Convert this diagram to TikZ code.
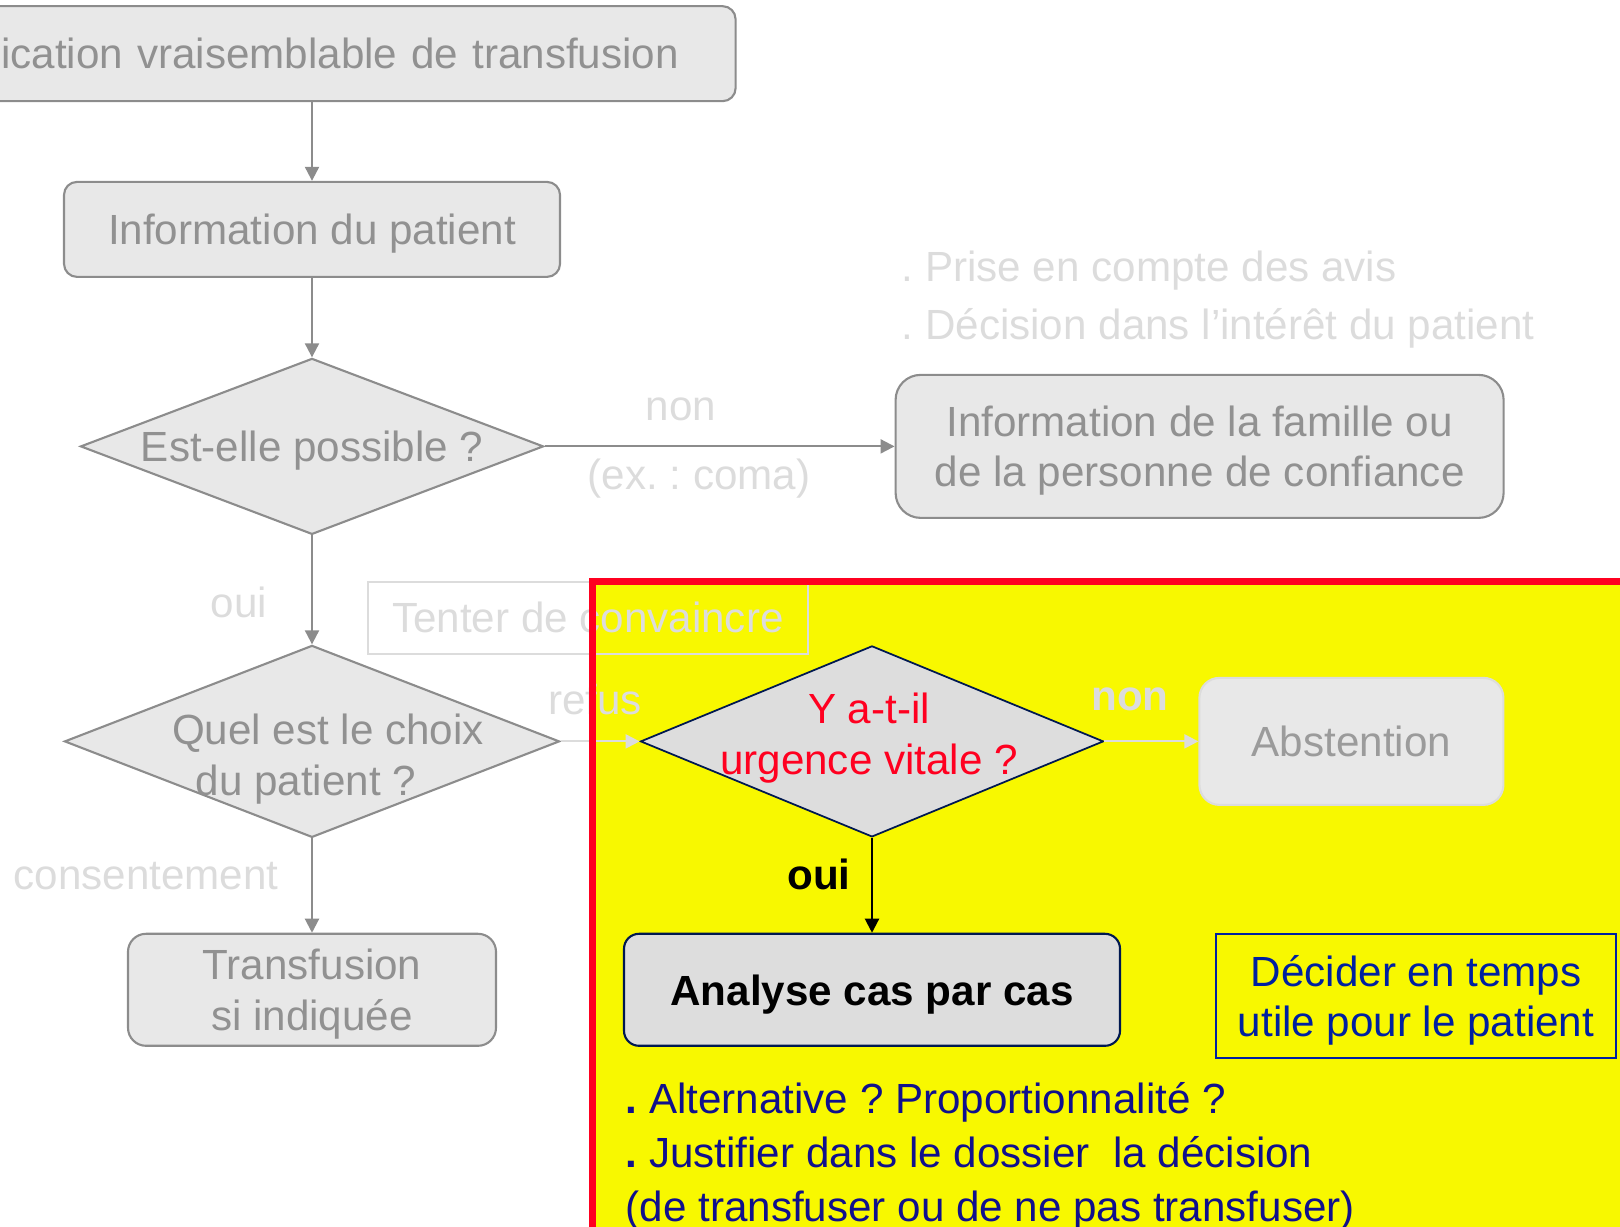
\documentclass[tikz,border=0pt]{standalone}
\usepackage{fontspec}
\setmainfont{Liberation Sans}
\usepackage{tikz}
\usetikzlibrary{arrows.meta,positioning,shapes.geometric}
\frenchspacing

\definecolor{boxfill}{RGB}{232,232,232}
\definecolor{boxline}{RGB}{140,140,140}
\definecolor{boxtext}{RGB}{145,145,145}
\definecolor{faint}{RGB}{220,220,220}
\definecolor{absttext}{RGB}{155,155,155}
\definecolor{urgfill}{RGB}{221,221,221}
\definecolor{navyline}{RGB}{0,24,80}
\definecolor{alertred}{RGB}{255,0,32}
\definecolor{hlyellow}{RGB}{248,248,0}
\definecolor{decblue}{RGB}{0,32,160}
\definecolor{notenavy}{RGB}{16,16,140}

\begin{document}
\begin{tikzpicture}[
    font=\fontsize{12}{14.4}\selectfont,
    greybox/.style={draw=boxline, fill=boxfill, text=boxtext, line width=0.6pt, rounded corners=0.13cm, inner sep=0pt, text depth=0pt, align=center},
    greydiamond/.style={diamond, draw=boxline, fill=boxfill, line width=0.6pt, inner sep=0pt},
    faintlabel/.style={text=faint, inner sep=0pt},
    notetext/.style={text=notenavy, anchor=base west, inner sep=0pt},
    flow/.style={line width=0.6pt, -{Triangle[length=1.4mm,width=1.4mm]}}
]
    \useasboundingbox (0,0) rectangle (16.2,12.264);
    \clip (0,0) rectangle (16.2,12.264);

    % Urgent zone (background)
    \fill[hlyellow] (5.925,-0.5) rectangle (16.8,6.447);

    % Main column
    \node[greybox, minimum height=0.95cm, text width=7.336cm, inner xsep=0.568cm, align=right] (indic) at (3.12,11.727) {ication vraisemblable de transfusion};
    \node[greybox, minimum width=4.96cm, minimum height=0.95cm] (infopat) at (3.12,9.97) {Information du patient};
    \node[greydiamond, minimum width=4.63cm, minimum height=1.76cm] (possible) at (3.12,7.8) {};
    \node[text=boxtext, text depth=0pt] (possibletxt) at (possible.center) {Est-elle possible ?};
    \node[greydiamond, minimum width=4.95cm, minimum height=1.92cm] (choix) at (3.12,4.85) {};
    \node[text=boxtext, align=center] (choixtxt) at ([xshift=0.05cm,yshift=-0.18cm]choix.center) {\hspace*{0.22cm}Quel est le choix\\du patient ?\hspace*{0.22cm}};
    \node[greybox, minimum width=3.68cm, minimum height=1.12cm, rounded corners=0.18cm] (transf) at (3.12,2.366) {Transfusion\\si indiquée};

    % Family branch
    \node[greybox, minimum width=6.08cm, minimum height=1.43cm, rounded corners=0.25cm] (famille) at (11.996,7.8) {Information de la famille ou\\de la personne de confiance};
    \node[faintlabel, anchor=west] (avis) at (9.01,9.56) {. Prise en compte des avis};
    \node[faintlabel, anchor=west] (interet) at (9.01,8.98) {. Décision dans l’intérêt du patient};

    % Labels
    \node[faintlabel] (nonpos) at (6.81,8.17) {non};
    \node[faintlabel] (coma) at (6.99,7.48) {(ex. : coma)};
    \node[faintlabel] (ouipos) at (2.39,6.24) {oui};
    \node[faintlabel] (consent) at (1.46,3.5) {consentement};
    \node[faintlabel] (refus) at (5.95,5.27) {refus};
    \node[draw=faint, text=faint, line width=0.6pt, minimum width=4.4cm, minimum height=0.72cm, inner sep=0pt] (tenter) at (5.879,6.086) {Tenter de convaincre};

    % Urgent zone
    \node[diamond, draw=navyline, fill=urgfill, line width=0.5pt, inner sep=0pt, minimum width=4.63cm, minimum height=1.91cm] (urgence) at (8.72,4.85) {};
    \node[text=alertred, align=center] (urgtxt) at ([xshift=-0.03cm,yshift=0.035cm]urgence.center) {Y a-t-il\\urgence vitale ?};
    \node[faintlabel] (nonurg) at (11.3,5.27) {\bfseries non};
    \node[draw=faint, fill=boxfill, text=absttext, line width=0.6pt, rounded corners=0.2cm, minimum width=3.04cm, minimum height=1.27cm, inner sep=0pt] (abst) at (13.514,4.85) {Abstention};
    \node[inner sep=0pt] (ouiurg) at (8.19,3.52) {\bfseries oui};
    \node[draw=navyline, fill=urgfill, line width=0.6pt, rounded corners=0.15cm, minimum width=4.96cm, minimum height=1.12cm, inner sep=0pt, text depth=0pt] (analyse) at (8.72,2.366) {\bfseries Analyse cas par cas};
    \node[draw=decblue, text=decblue, line width=0.8pt, minimum width=4cm, minimum height=1.24cm, inner sep=0pt, text depth=0pt, align=center] (decider) at (14.16,2.304) {Décider en temps\\utile pour le patient};

    % Notes
    \node[notetext] (alt) at (6.25,1.127) {\textbf{.} Alternative ? Proportionnalité ?};
    \node[notetext] (justif) at (6.25,0.587) {\textbf{.} Justifier dans le dossier \ la décision};
    \node[notetext] (transfuser) at (6.25,0.047) {(de transfuser ou de ne pas transfuser)};

    % Arrows
    \draw[flow, boxline] (indic) -- (infopat);
    \draw[flow, boxline] (infopat) -- (possible);
    \draw[flow, boxline] (possible) -- (choix);
    \draw[flow, boxline] (choix) -- (transf);
    \draw[flow, boxline] (possible) -- (famille);
    \draw[flow, faint] (choix) -- (urgence);
    \draw[flow, faint] (urgence) -- (abst);
    \draw[flow, black] (urgence) -- (analyse);

    % Red frame
    \draw[alertred, line width=2pt] (16.8,6.447) -- (5.925,6.447) -- (5.925,-0.5);
\end{tikzpicture}
\end{document}
